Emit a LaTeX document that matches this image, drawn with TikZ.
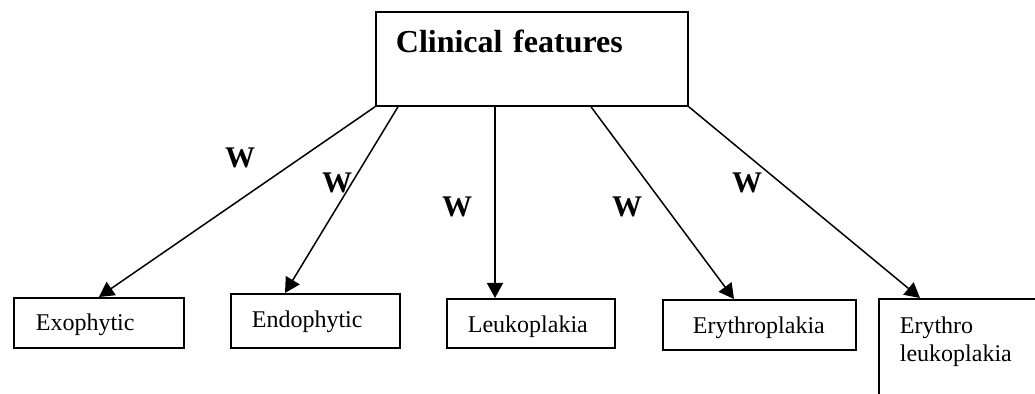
\documentclass[tikz,border=0pt]{standalone}
\usepackage{fontspec}
\setmainfont{Liberation Serif}
\usetikzlibrary{arrows.meta}
\tikzset{
  box/.style={draw, line width=0.9pt, anchor=north west, inner ysep=0pt, align=left,
    font=\fontsize{12pt}{13.8pt}\selectfont},
  arr/.style={-{Triangle[length=7.5pt,width=8pt]}, line width=0.75pt},
  wlab/.style={font=\fontsize{15pt}{18pt}\selectfont\bfseries}
}
\begin{document}
\begin{tikzpicture}[x=0.5pt,y=-0.5pt]
  \useasboundingbox (0,0) rectangle (1035,394);
  \clip (0,0) rectangle (1035,394);
  % top box
  \node[box, font=\fontsize{16pt}{19pt}\selectfont\bfseries, text width=136pt, inner xsep=10pt,
    text height=20.5pt, text depth=26.5pt] (top) at (375,11) {Clinical features};
  % bottom boxes
  \node[box, text width=63pt, inner xsep=11pt, text height=16.5pt, text depth=8.5pt] (exo) at (13,297) {Exophytic};
  \node[box, text width=63.5pt, inner xsep=10.5pt, text height=17pt, text depth=10pt] (endo) at (230,293) {Endophytic};
  \node[box, text width=63pt, inner xsep=10.5pt, text height=17pt, text depth=7.5pt] (leuk) at (446,298) {Leukoplakia};
  \node[box, text width=66.5pt, inner xsep=15pt, text height=17pt, text depth=8pt] (eryp) at (662,299) {Erythroplakia};
  \node[box, text width=80pt, inner xsep=10.5pt, text height=17.5pt, text depth=34pt] (erle) at (878,298) {Erythro\\leukoplakia};
  % arrows
  \draw[arr] (top.south west) -- (exo.north);
  \draw[arr] ([xshift=11.5pt]top.south west) -- ([xshift=27.5pt]endo.north west);
  \draw[arr] ([xshift=60pt]top.south west) -- ([xshift=24.5pt]leuk.north west);
  \draw[arr] ([xshift=108pt]top.south west) -- ([xshift=36pt]eryp.north west);
  \draw[arr] (top.south east) -- ([xshift=21pt]erle.north west);
  % labels
  \node[wlab] (w1) at (240,158) {W};
  \node[wlab] (w2) at (337,183) {W};
  \node[wlab] (w3) at (457,207) {W};
  \node[wlab] (w4) at (627,207) {W};
  \node[wlab] (w5) at (747,183) {W};
\end{tikzpicture}
\end{document}
